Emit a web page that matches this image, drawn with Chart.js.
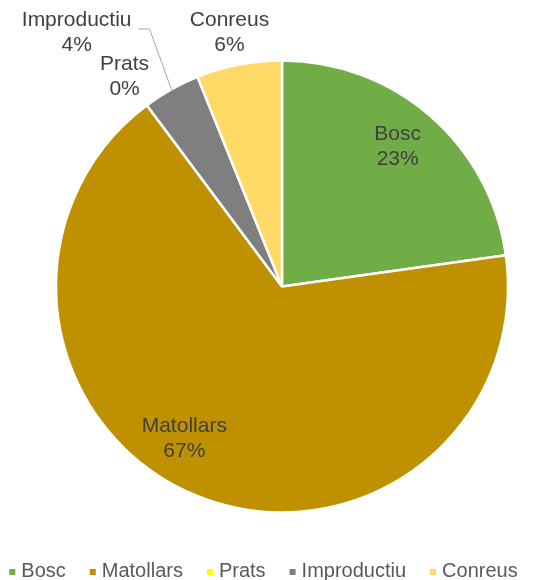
<!DOCTYPE html>
<html>
<head>
<meta charset="utf-8">
<script src="https://cdn.jsdelivr.net/npm/chart.js@4/dist/chart.umd.min.js"></script>
<style>
  html, body { margin: 0; padding: 0; background: #ffffff; }
  #wrap { width: 549px; height: 580px; position: relative; }
</style>
</head>
<body>
<div id="wrap"><canvas id="c" width="549" height="580"></canvas></div>
<script>
// ---- data ----
const categories = ['Bosc', 'Matollars', 'Prats', 'Improductiu', 'Conreus'];
const values = [22.8, 67.0, 0, 4.1, 6.1];
const colors = ['#70AD47', '#BF9000', '#FFFF00', '#7F7F7F', '#FFD966'];

// ---- label placement (radial factor of outer radius + pixel nudge) ----
const labelRadial = [0.8, 0.8, 1.165, 1.15, 1.15];
const labelNudge = [[-3, -3], [-28, -15], [0, 1], [-78, -27], [-3, 1]];
const leaderFor = [false, false, false, true, false];

const FONT = '"Liberation Sans", Arial, sans-serif';
const total = values.reduce((a, b) => a + b, 0);

const labelsPlugin = {
  id: 'pieLabels',
  afterDatasetsDraw(chart) {
    const ctx = chart.ctx;
    const meta = chart.getDatasetMeta(0);
    ctx.save();
    ctx.font = '21px ' + FONT;
    ctx.fillStyle = '#404040';
    ctx.textAlign = 'center';
    ctx.textBaseline = 'middle';
    meta.data.forEach((arc, i) => {
      const p = arc.getProps(['x', 'y', 'startAngle', 'endAngle', 'outerRadius'], true);
      const mid = (p.startAngle + p.endAngle) / 2;
      const r = p.outerRadius * labelRadial[i];
      const cx = p.x + Math.cos(mid) * r + labelNudge[i][0];
      const cy = p.y + Math.sin(mid) * r + labelNudge[i][1];
      const pct = Math.round(values[i] / total * 100) + '%';
      ctx.fillText(categories[i], cx, cy - 12.5);
      ctx.fillText(pct, cx, cy + 12.5);
      if (leaderFor[i]) {
        const w = ctx.measureText(categories[i]).width;
        const sx = cx + w / 2 + 7;
        const sy = cy - 4;
        const ex = p.x + Math.cos(mid) * (p.outerRadius - 1);
        const ey = p.y + Math.sin(mid) * (p.outerRadius - 1);
        ctx.save();
        ctx.strokeStyle = '#A6A6A6';
        ctx.lineWidth = 1;
        ctx.beginPath();
        ctx.moveTo(sx, sy);
        ctx.lineTo(sx + 11, sy);
        ctx.lineTo(ex, ey);
        ctx.stroke();
        ctx.restore();
      }
    });
    ctx.restore();
  }
};

const legendPlugin = {
  id: 'bottomLegend',
  afterDraw(chart) {
    const ctx = chart.ctx;
    ctx.save();
    ctx.font = '20px ' + FONT;
    const box = 6, gap = 6, spacing = 24;
    const widths = categories.map(c => ctx.measureText(c).width);
    let totalW = 0;
    widths.forEach((w, i) => { totalW += box + gap + w + (i < widths.length - 1 ? spacing : 0); });
    let x = 263.5 - totalW / 2;
    const yMid = 571;
    categories.forEach((c, i) => {
      ctx.fillStyle = colors[i];
      ctx.fillRect(x, yMid - 2, box, box);
      ctx.fillStyle = '#595959';
      ctx.textAlign = 'left';
      ctx.textBaseline = 'middle';
      ctx.fillText(c, x + box + gap, yMid);
      x += box + gap + widths[i] + spacing;
    });
    ctx.restore();
  }
};

new Chart(document.getElementById('c'), {
  type: 'pie',
  data: {
    labels: categories,
    datasets: [{
      data: values,
      backgroundColor: colors,
      borderColor: '#ffffff',
      borderWidth: 2.5
    }]
  },
  options: {
    responsive: false,
    animation: false,
    radius: 226,
    layout: { padding: { left: 55, right: 40, top: 60, bottom: 67 } },
    plugins: {
      legend: { display: false },
      tooltip: { enabled: false }
    }
  },
  plugins: [labelsPlugin, legendPlugin]
});
</script>
</body>
</html>
